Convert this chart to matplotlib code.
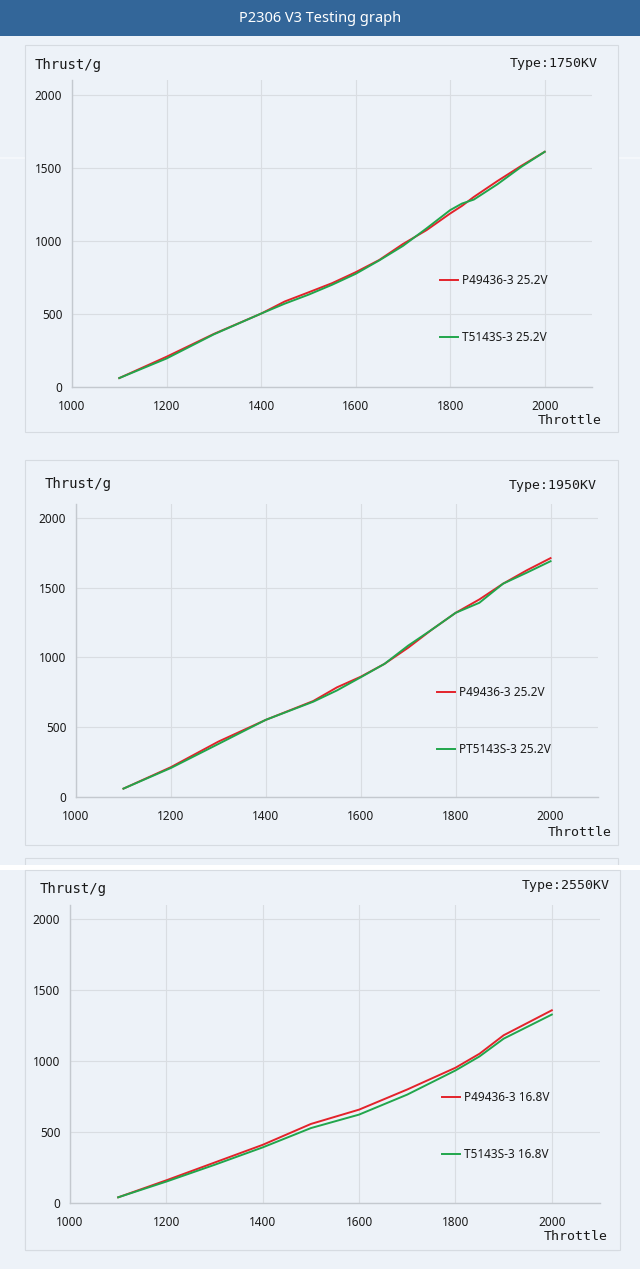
import matplotlib
matplotlib.use("Agg")
import matplotlib.pyplot as plt
from matplotlib.patches import Rectangle

W, H = 640, 1269

# data
throttle_1 = [1100, 1200, 1300, 1400, 1450, 1500, 1550, 1600, 1650, 1700, 1750, 1800, 1825, 1850, 1900, 1950, 2000]
p_1750 = [61, 207, 363, 502, 585, 647, 710, 785, 869, 978, 1073, 1187, 1239, 1300, 1409, 1512, 1609]
t_1750 = [61, 195, 360, 502, 570, 631, 699, 774, 866, 965, 1085, 1210, 1255, 1282, 1387, 1505, 1609]

throttle_2 = [1100, 1200, 1300, 1400, 1500, 1550, 1600, 1650, 1700, 1750, 1800, 1850, 1900, 1950, 2000]
p_1950 = [60, 214, 397, 553, 688, 786, 862, 954, 1070, 1200, 1320, 1416, 1529, 1625, 1712]
t_1950 = [60, 208, 380, 553, 683, 764, 858, 954, 1085, 1200, 1320, 1392, 1529, 1608, 1690]

throttle_3 = [1100, 1200, 1300, 1400, 1500, 1600, 1700, 1800, 1850, 1900, 2000]
p_2550 = [40, 160, 285, 410, 557, 658, 800, 953, 1052, 1182, 1358]
t_2550 = [40, 151, 269, 392, 528, 623, 764, 934, 1033, 1158, 1328]

x_ticks = [1000, 1200, 1400, 1600, 1800, 2000]
y_ticks = [0, 500, 1000, 1500, 2000]

panels = [
    # kv, throttle, red, green, red label, green label
    ("1750KV", throttle_1, p_1750, t_1750, "P49436-3 25.2V", "T5143S-3 25.2V"),
    ("1950KV", throttle_2, p_1950, t_1950, "P49436-3 25.2V", "PT5143S-3 25.2V"),
    ("2550KV", throttle_3, p_2550, t_2550, "P49436-3 16.8V", "T5143S-3 16.8V"),
]

# pixel layout per panel: box (x0,y0,x1,y1), axes (x0,y0,x1,y1), label positions
layout = [
    dict(box=(25, 45, 618, 432), ax=(72, 80, 592, 387), thrust=(35, 65), kv=(598, 64),
         throttle=(602, 421), leg=(440, 274)),
    dict(box=(25, 460, 618, 845), ax=(76, 504, 598, 797), thrust=(45, 484), kv=(597, 485),
         throttle=(612, 832), leg=(437, 686)),
    dict(box=(25, 870, 620, 1250), ax=(70, 905, 600, 1203), thrust=(40, 889), kv=(610, 886),
         throttle=(608, 1236), leg=(442, 1091)),
]

RED = "#e3232b"
GREEN = "#21a64c"
BG = "#edf2f8"
GRID = "#d9dde2"
TXT = "#1a1a1a"
mono = "DejaVu Sans Mono"
sans = ["Noto Sans", "DejaVu Sans"]

fig = plt.figure(figsize=(W / 100, H / 100), dpi=100, facecolor=BG)


def fx(x):
    return x / W


def fy(y):
    return 1 - y / H


def rect(x0, y0, x1, y1, **kw):
    fig.patches.append(Rectangle((fx(x0), fy(y1)), (x1 - x0) / W, (y1 - y0) / H,
                                 transform=fig.transFigure, zorder=-10, **kw))


# header bar
rect(0, 0, 640, 36, facecolor="#336699", edgecolor="none")
fig.text(0.5, fy(18), "P2306 V3 Testing graph", color="white", ha="center", va="center",
         fontsize=10.5, family=sans)

# faint box above third panel and white band
rect(25, 858, 618, 1250, facecolor="none", edgecolor="#d6dbe1", lw=0.8)
rect(0, 865, 640, 870, facecolor="white", edgecolor="none")
rect(0, 157, 640, 159, facecolor="#f4f7fb", edgecolor="none")

for (kv, thr, red, green, lab_r, lab_g), L in zip(panels, layout):
    bx = L["box"]
    rect(*bx, facecolor=BG, edgecolor="#d6dbe1", lw=0.8)

    a = L["ax"]
    ax = fig.add_axes([fx(a[0]), fy(a[3]), (a[2] - a[0]) / W, (a[3] - a[1]) / H])
    ax.set_facecolor("none")
    ax.plot(thr, red, color=RED, lw=1.4, label=lab_r, zorder=3)
    ax.plot(thr, green, color=GREEN, lw=1.4, label=lab_g, zorder=3)
    ax.set_xlim(1000, 2100)
    ax.set_ylim(0, 2100)
    ax.set_xticks(x_ticks)
    ax.set_yticks(y_ticks)
    ax.grid(True, color=GRID, lw=0.8)
    ax.set_axisbelow(True)
    for s in ["top", "right"]:
        ax.spines[s].set_visible(False)
    for s in ["left", "bottom"]:
        ax.spines[s].set_color("#c4c9cf")
        ax.spines[s].set_linewidth(1.0)
    ax.tick_params(length=0, labelsize=8.5, colors=TXT, pad=7)
    ax.tick_params(axis="x", pad=9)
    for t in ax.get_xticklabels() + ax.get_yticklabels():
        t.set_family(sans)

    leg = ax.legend(loc="upper left", bbox_to_anchor=(fx(L["leg"][0]), fy(L["leg"][1])),
                    bbox_transform=fig.transFigure, frameon=False, borderpad=0,
                    borderaxespad=0, handlelength=1.5, handletextpad=0.4,
                    labelspacing=3.75, prop={"family": sans, "size": 8.5})
    for t in leg.get_texts():
        t.set_color(TXT)

    fig.text(fx(L["thrust"][0]), fy(L["thrust"][1]), "Thrust/g", family=mono,
             fontsize=10, color=TXT, ha="left", va="center")
    fig.text(fx(L["kv"][0]), fy(L["kv"][1]), "Type:" + kv, family=mono,
             fontsize=9.5, color=TXT, ha="right", va="center")
    fig.text(fx(L["throttle"][0]), fy(L["throttle"][1]), "Throttle", family=mono,
             fontsize=9.5, color=TXT, ha="right", va="center")

fig.savefig("out.png", dpi=100, facecolor=BG)
